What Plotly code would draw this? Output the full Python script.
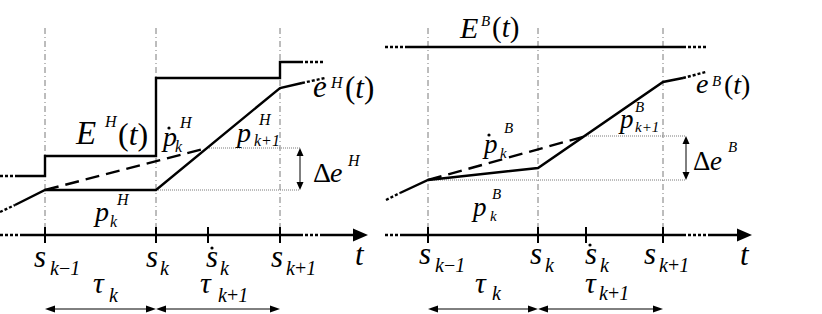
import plotly.graph_objects as go

FONT = "Liberation Serif, Times New Roman, DejaVu Serif, serif"
BLACK = "#000000"
GRAY = "#7a7a7a"

# ---------------- data (diagram units, time to the right, level measured downward) ----------------
AXIS_LEVEL = 235
GRID_TOP = 28

# Left panel (H)
H_grid_t = [45, 156, 280]                 # s_{k-1}, s_k, s_{k+1}
H_tick_t = [45, 156, 208, 280]            # s_{k-1}, s_k, ṡ_k, s_{k+1}
H_E_lead_t, H_E_lead_v = [0, 17], [176, 176]
H_E_t = [17, 45, 45, 156, 156, 280, 280, 300]
H_E_v = [176, 176, 156, 156, 78, 78, 62, 62]
H_E_tail_t, H_E_tail_v = [300, 323], [62, 62]
H_e_lead_t, H_e_lead_v = [0, 15], [212, 205]
H_e_t = [15, 45, 156, 280, 302]
H_e_v = [205, 190, 190, 88, 83]
H_e_tail_t, H_e_tail_v = [302, 325], [83, 78]
H_pdot_t, H_pdot_v = [45, 207], [190, 148]
H_de_t = 300
H_de_from_t = [207, 156]
H_de_v = [148, 190]
H_axis_solid = [[20, 300], [322, 356]]
H_axis_dotted = [[0, 20], [300, 322]]
H_axis_tip = 368
H_span_t = [45, 156, 280]

# Right panel (B)
B_grid_t = [428, 538, 663]
B_tick_t = [428, 538, 586, 663]
B_E_lead_t, B_E_lead_v = [385, 406], [47, 47]
B_E_t, B_E_v = [406, 683], [47, 47]
B_E_tail_t, B_E_tail_v = [683, 706], [47, 47]
B_e_lead_t, B_e_lead_v = [386, 400], [200, 193]
B_e_t = [400, 428, 538, 663, 683]
B_e_v = [193, 180, 168, 82, 78]
B_e_tail_t, B_e_tail_v = [683, 706], [78, 72]
B_pdot_t, B_pdot_v = [428, 586], [180, 136]
B_de_t = 686
B_de_from_t = [586, 428]
B_de_v = [136, 180]
B_axis_solid = [[400, 683], [708, 740]]
B_axis_dotted = [[385, 400], [683, 708]]
B_axis_tip = 752
B_span_t = [428, 538, 663]

SPAN_LEVEL = 309

# ---------------- drawing ----------------
fig = go.Figure()
shapes = []
ann = []


def line(t, v, width=2.4, dash="solid", color=BLACK):
    fig.add_trace(go.Scatter(x=t, y=v, mode="lines", hoverinfo="skip",
                             line=dict(color=color, width=width, dash=dash)))


def head(tx, ty, dx, dy, length, half):
    n = (dx * dx + dy * dy) ** 0.5
    ux, uy = dx / n, dy / n
    bx, by = tx - ux * length, ty - uy * length
    px, py = -uy * half, ux * half
    shapes.append(dict(type="path", xref="x", yref="y",
                       path=f"M{tx},{ty} L{bx+px},{by+py} L{bx-px},{by-py} Z",
                       fillcolor=BLACK, line=dict(color=BLACK, width=0)))


def txt(x, bl, s, size, italic=True):
    ann.append(dict(x=x, y=bl - 0.35 * size, xref="x", yref="y",
                    text=(f"<i>{s}</i>" if italic else s), showarrow=False,
                    xanchor="left", yanchor="middle", borderpad=0,
                    font=dict(family=FONT, size=size, color=BLACK)))


def dot(x, y, r=1.6):
    shapes.append(dict(type="circle", xref="x", yref="y", x0=x - r, x1=x + r,
                       y0=y - r, y1=y + r, fillcolor=BLACK, line=dict(width=0)))


def panel(grid_t, tick_t, E_lead, E_main, E_tail, e_lead, e_main, e_tail,
          pdot, de_t, de_from, de_v, ax_solid, ax_dotted, ax_tip, span_t):
    for g in grid_t:
        line([g, g], [GRID_TOP, AXIS_LEVEL], width=1, dash="6px,3px,1px,3px", color=GRAY)
    for a, b in zip(de_from, de_v):
        line([a, de_t], [b, b], width=1, dash="1px,1px", color=GRAY)
    line(*E_lead, dash="3px,2px")
    line(*E_main)
    line(*E_tail, dash="3px,2px")
    line(*e_lead, dash="3px,2px")
    line(*e_main)
    line(*e_tail, dash="3px,2px")
    line(*pdot, dash="14px,7px")
    for s in ax_solid:
        line(s, [AXIS_LEVEL, AXIS_LEVEL], width=2.5)
    for s in ax_dotted:
        line(s, [AXIS_LEVEL, AXIS_LEVEL], width=2.5, dash="3px,2px")
    head(ax_tip, AXIS_LEVEL, 1, 0, 15, 6.5)
    for t in tick_t:
        line([t, t], [AXIS_LEVEL - 8, AXIS_LEVEL + 8], width=2)
    # delta arrow
    line([de_t, de_t], [de_v[0] + 6, de_v[1] - 6], width=1)
    head(de_t, de_v[0], 0, -1, 8, 3.5)
    head(de_t, de_v[1], 0, 1, 8, 3.5)
    # span arrows
    for a, b in zip(span_t[:-1], span_t[1:]):
        line([a + 8, b - 8], [SPAN_LEVEL, SPAN_LEVEL], width=1)
        head(a, SPAN_LEVEL, -1, 0, 10, 3.5)
        head(b, SPAN_LEVEL, 1, 0, 10, 3.5)


panel(H_grid_t, H_tick_t, (H_E_lead_t, H_E_lead_v), (H_E_t, H_E_v), (H_E_tail_t, H_E_tail_v),
      (H_e_lead_t, H_e_lead_v), (H_e_t, H_e_v), (H_e_tail_t, H_e_tail_v),
      (H_pdot_t, H_pdot_v), H_de_t, H_de_from_t, H_de_v,
      H_axis_solid, H_axis_dotted, H_axis_tip, H_span_t)
panel(B_grid_t, B_tick_t, (B_E_lead_t, B_E_lead_v), (B_E_t, B_E_v), (B_E_tail_t, B_E_tail_v),
      (B_e_lead_t, B_e_lead_v), (B_e_t, B_e_v), (B_e_tail_t, B_e_tail_v),
      (B_pdot_t, B_pdot_v), B_de_t, B_de_from_t, B_de_v,
      B_axis_solid, B_axis_dotted, B_axis_tip, B_span_t)

M, S = 31, 16   # main / script sizes
# ---- left labels ----
txt(74, 145, "E", 33); txt(103, 127, "H", S); txt(117, 145, "(<i>t</i>)", 32, italic=False)
txt(160, 146, "p", 28); dot(169, 128); txt(178, 128, "H", S); txt(174, 152, "k", S)
txt(234, 142, "p", 28); txt(257, 125, "H", S); txt(253, 146, "k+1", S)
txt(312, 97, "e", M); txt(329, 88, "H", S); txt(344, 98, "(<i>t</i>)", M, italic=False)
txt(312, 182, "Δ", 28, italic=False); txt(329, 182, "e", 28); txt(346, 166, "H", S)
txt(92, 221, "p", 28); txt(115, 205, "H", S); txt(109, 227, "k", S)
# axis labels left
txt(33, 267, "s", M); txt(49, 275, "k</i>−<i>1", 20)
txt(145, 267, "s", M); txt(159, 275, "k", 20)
txt(205, 267, "s", M); dot(212, 248); txt(219, 275, "k", 20)
txt(270, 267, "s", M); txt(285, 275, "k</i>+<i>1", 20)
txt(354, 265, "t", M)
txt(92, 293, "τ", 30); txt(108, 302, "k", 20)
txt(199, 293, "τ", 30); txt(217, 302, "k</i>+<i>1", 20)

# ---- right labels ----
txt(458, 38, "E", 30); txt(480, 26, "B", 15); txt(491, 38, "(<i>t</i>)", 29, italic=False)
txt(481, 153, "p", 27); dot(489, 135); txt(503, 133, "B", 15); txt(499, 158, "k", 15)
txt(617, 128, "p", 27); txt(634, 112, "B", 15); txt(634, 132, "k+1", 15)
txt(695, 93, "e", 28); txt(711, 86, "B", 15); txt(723, 94, "(<i>t</i>)", 28, italic=False)
txt(692, 170, "Δ", 27, italic=False); txt(709, 170, "e", 27); txt(727, 152, "B", 15)
txt(470, 216, "p", 27); txt(491, 199, "B", 15); txt(489, 221, "k", 15)
txt(418, 264, "s", M); txt(434, 272, "k</i>−<i>1", 20)
txt(529, 264, "s", M); txt(544, 272, "k", 20)
txt(584, 264, "s", M); dot(590, 245); txt(599, 272, "k", 20)
txt(643, 264, "s", M); txt(658, 272, "k</i>+<i>1", 20)
txt(739, 265, "t", M)
txt(474, 293, "τ", 30); txt(491, 300, "k", 20)
txt(584, 293, "τ", 30); txt(598, 300, "k</i>+<i>1", 20)

fig.update_layout(
    width=822, height=314, margin=dict(l=0, r=0, t=0, b=0),
    paper_bgcolor="white", plot_bgcolor="white", showlegend=False,
    xaxis=dict(visible=False, range=[0, 822], fixedrange=True),
    yaxis=dict(visible=False, range=[314, 0], fixedrange=True),
    shapes=shapes, annotations=ann,
)
fig.write_html("out.html", config={"staticPlot": True},
               post_script="document.body.style.margin='0';")
